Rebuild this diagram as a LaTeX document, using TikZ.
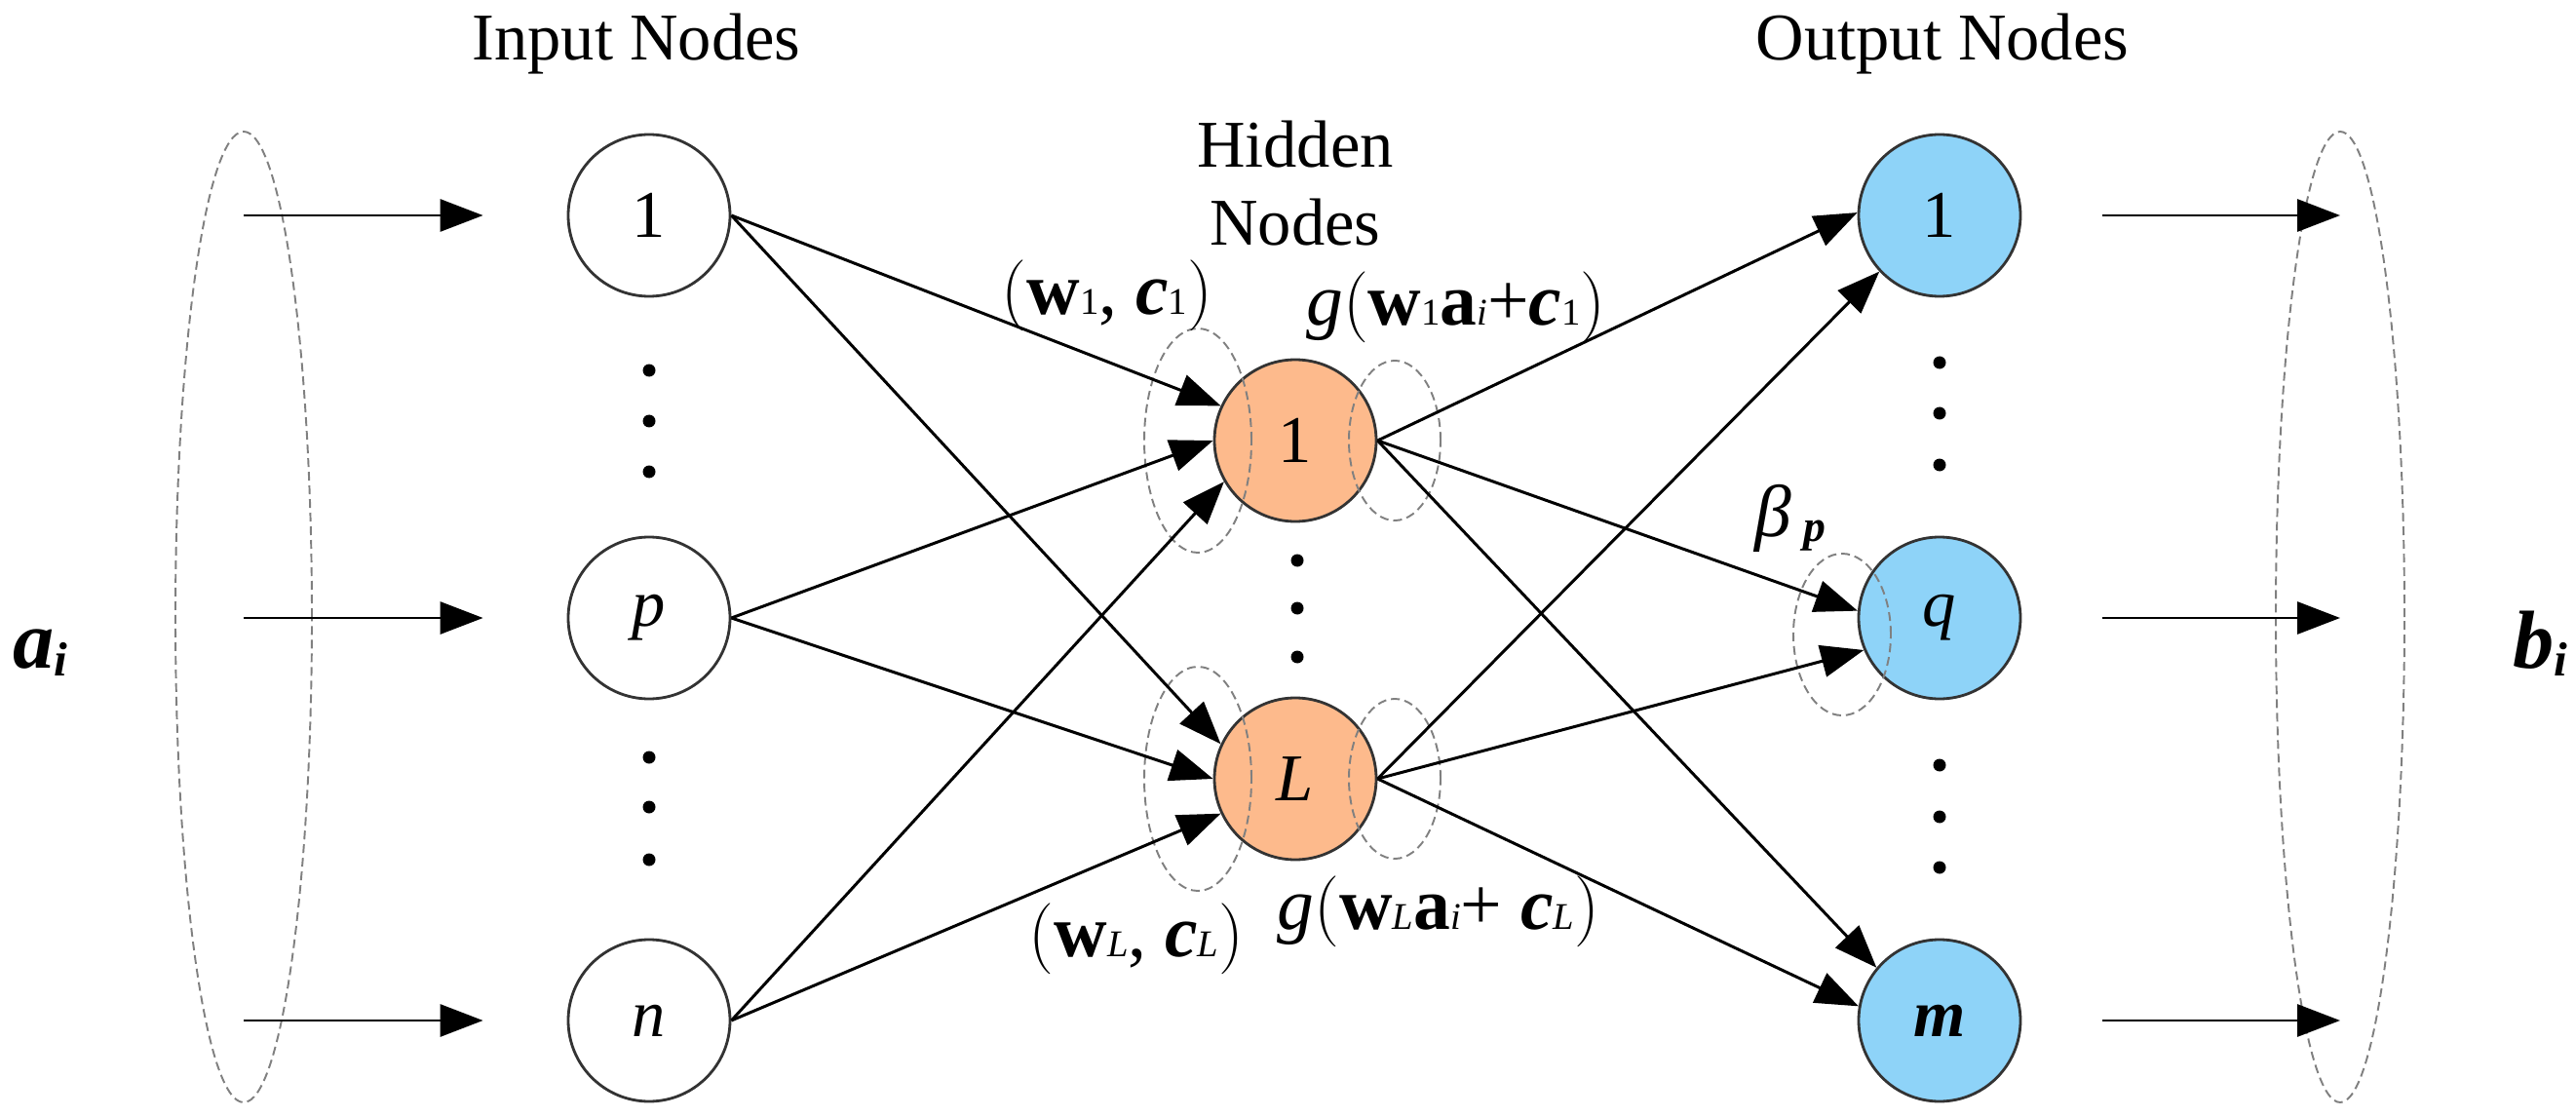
\documentclass[tikz,border=0pt]{standalone}
\usepackage{fontspec}
\setmainfont{Liberation Serif}
\usetikzlibrary{arrows.meta,shapes.geometric}

\definecolor{hidorange}{RGB}{253,186,140}
\definecolor{outblue}{RGB}{142,211,248}
\newcommand{\lsub}[1]{{\fontsize{11}{11}\selectfont #1}}

\begin{document}
\begin{tikzpicture}[>={Triangle[length=4.4mm,width=3.3mm]},
    font=\fontsize{19.5}{22.7}\selectfont,
    neuron/.style={circle, draw=black!80, line width=0.8pt, fill=white,
        minimum size=1.66cm, inner sep=0pt},
    hidnode/.style={neuron, fill=hidorange},
    outnode/.style={neuron, fill=outblue},
    dashell/.style={draw=gray, line width=0.55pt, dash pattern=on 0.9mm off 0.5mm},
    conn/.style={line width=0.85pt, ->},
    formula/.style={anchor=base, font=\fontsize{21.5}{24}\selectfont}]
    \useasboundingbox (0,0) rectangle (26.43,11.45);
    % Draw the three layers of nodes
    \node[neuron] (in1) at (6.66,9.24) {1};
    \node[neuron] (inp) at (6.66,5.11) {\textit{p}};
    \node[neuron] (inn) at (6.66,0.98) {\textit{n}};
    \node[hidnode] (h1) at (13.29,6.93) {1};
    \node[hidnode] (hL) at (13.29,3.46) {\textit{L}};
    \node[outnode] (out1) at (19.90,9.24) {1};
    \node[outnode] (outq) at (19.90,5.11) {\textit{q}};
    \node[outnode] (outm) at (19.90,0.98) {\textbf{\textit{m}}};
    % Dashed ellipses round the input and output vectors
    \node[dashell, ellipse, minimum width=1.4cm, minimum height=9.96cm] (avec) at (2.50,5.12) {};
    \node[dashell, ellipse, minimum width=1.32cm, minimum height=9.96cm] (bvec) at (24.01,5.12) {};
    % Small dashed ellipses at the hidden nodes and at q
    \foreach \h in {h1,hL} {
        \draw[dashell] ([xshift=-1cm]\h.center) ellipse [x radius=0.55cm, y radius=1.15cm];
        \draw[dashell] ([xshift=1.02cm]\h.center) ellipse [x radius=0.47cm, y radius=0.82cm];
    }
    \draw[dashell] ([xshift=-1cm,yshift=-0.17cm]outq.center) ellipse [x radius=0.5cm, y radius=0.83cm];
    % Dots between the nodes
    \foreach \y in {7.65,7.13,6.61,3.68,3.17,2.63} \fill (6.66,\y) circle (0.065);
    \foreach \y in {5.70,5.21,4.71} \fill (13.31,\y) circle (0.065);
    \foreach \y in {7.73,7.21,6.68,3.60,3.07,2.55} \fill (19.90,\y) circle (0.065);
    % Input and output arrows
    \foreach \n in {in1,inp,inn}
        \draw[conn] (avec.center |- \n) -- ([xshift=-8.6mm]\n.west);
    \foreach \n in {out1,outq,outm}
        \draw[conn] ([xshift=8.3mm]\n.east) -- (bvec.center |- \n);
    % Connections input -> hidden
    \draw[conn] (in1.east) -- (h1.155);
    \draw[conn] (inp.east) -- (h1.west);
    \draw[conn] (inn.east) -- (h1.210);
    \draw[conn] (in1.east) -- (hL.155);
    \draw[conn] (inp.east) -- (hL.west);
    \draw[conn] (inn.east) -- (hL.205);
    % Connections hidden -> output
    \draw[conn] (h1.east) -- (out1.178);
    \draw[conn] (hL.east) -- (out1.223);
    \draw[conn] (h1.east) -- (outq.175);
    \draw[conn] (hL.east) -- (outq.203);
    \draw[conn] (h1.east) -- (outm.140);
    \draw[conn] (hL.east) -- (outm.170);
    % Labels
    \node[anchor=base] (inlabel) at (6.53,10.83) {Input Nodes};
    \node[anchor=base] (outlabel) at (19.93,10.83) {Output Nodes};
    \node[align=center] (hidlabel) at (13.29,9.57) {Hidden\\Nodes};
    \node[formula] (wc1) at (11.36,8.23)
        {$\Bigl($\textbf{w}\lsub{1}, \textbf{\textit{c}}\lsub{1}$\Bigr)$};
    \node[formula] (g1) at (14.94,8.11)
        {\textit{g}$\Bigl($\textbf{w}\lsub{1}\textbf{a}\lsub{\textit{i}}+\textbf{\textit{c}}\lsub{1}$\Bigr)$};
    \node[formula] (wcL) at (11.66,1.64)
        {$\Bigl($\textbf{w}\lsub{\textit{L}}, \textbf{\textit{c}}\lsub{\textit{L}}$\Bigr)$};
    \node[formula] (gL) at (14.76,1.92)
        {\textit{g}$\Bigl($\textbf{w}\lsub{\textit{L}}\textbf{a}\lsub{\textit{i}}+ \textbf{\textit{c}}\lsub{\textit{L}}$\Bigr)$};
    \node[formula] (beta) at (18.37,5.95)
        {\textit{β}\,\raisebox{-0.5mm}{\fontsize{13}{13}\selectfont\textbf{\textit{p}}}};
    \node[anchor=base west, inner sep=0pt, font=\fontsize{24}{24}\selectfont] (ai) at (0.13,4.60)
        {\textbf{\textit{a}}\raisebox{-0.8mm}{\fontsize{14}{14}\selectfont\textbf{\textit{i}}}};
    \node[anchor=base west, inner sep=0pt, font=\fontsize{24}{24}\selectfont] (bi) at (25.78,4.60)
        {\textbf{\textit{b}}\raisebox{-0.8mm}{\fontsize{14}{14}\selectfont\textbf{\textit{i}}}};
\end{tikzpicture}
\end{document}
